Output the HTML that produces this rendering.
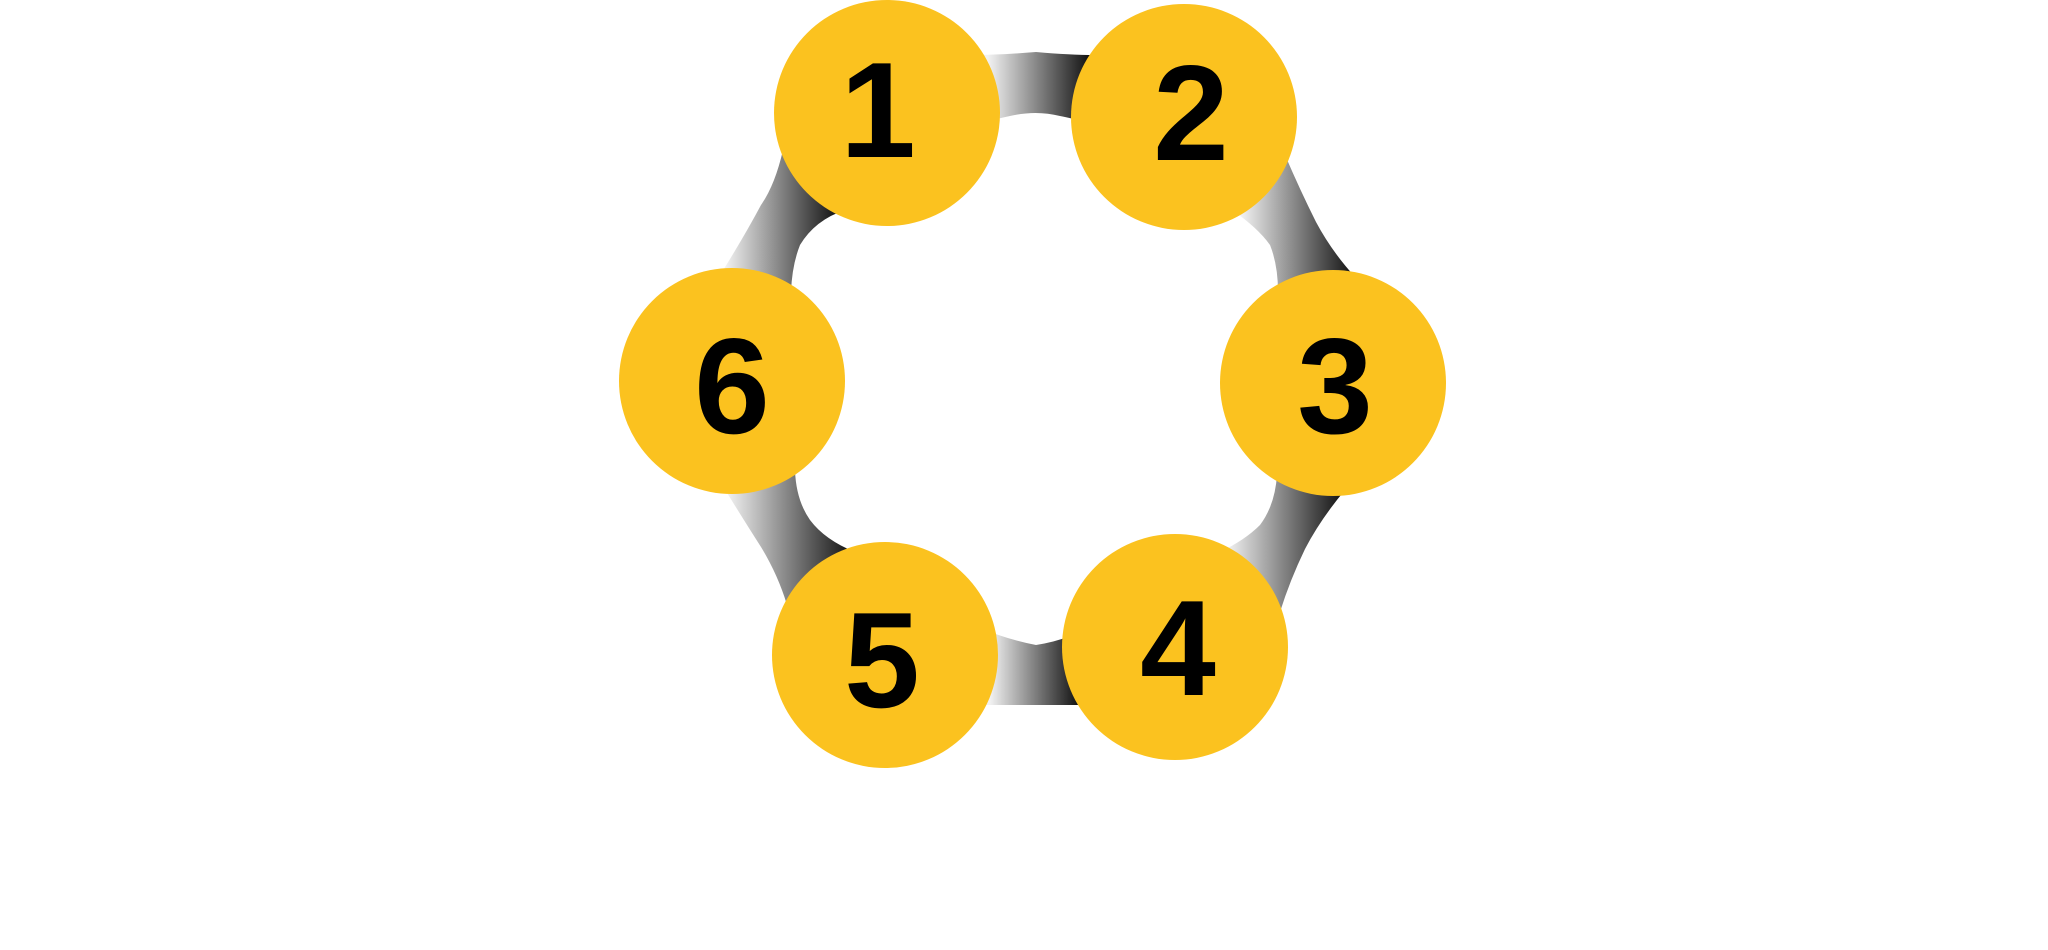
<!DOCTYPE html>
<html><head><style>html,body{margin:0;padding:0;background:#fff;}svg{display:block}</style></head>
<body>
<svg width="2048" height="950" viewBox="0 0 2048 950" xmlns="http://www.w3.org/2000/svg">
<defs>
<linearGradient id="g12" gradientUnits="userSpaceOnUse" x1="988" y1="0" x2="1088" y2="0"><stop offset="0" stop-color="#f2f2f2"/><stop offset="1" stop-color="#151515"/></linearGradient>
<linearGradient id="g23" gradientUnits="userSpaceOnUse" x1="1241" y1="0" x2="1352" y2="0"><stop offset="0" stop-color="#f2f2f2"/><stop offset="1" stop-color="#151515"/></linearGradient>
<linearGradient id="g34" gradientUnits="userSpaceOnUse" x1="1227" y1="0" x2="1341" y2="0"><stop offset="0" stop-color="#f2f2f2"/><stop offset="1" stop-color="#151515"/></linearGradient>
<linearGradient id="g45" gradientUnits="userSpaceOnUse" x1="990" y1="0" x2="1077" y2="0"><stop offset="0" stop-color="#f2f2f2"/><stop offset="1" stop-color="#151515"/></linearGradient>
<linearGradient id="g56" gradientUnits="userSpaceOnUse" x1="727" y1="0" x2="850" y2="0"><stop offset="0" stop-color="#f2f2f2"/><stop offset="1" stop-color="#151515"/></linearGradient>
<linearGradient id="g61" gradientUnits="userSpaceOnUse" x1="725" y1="0" x2="836" y2="0"><stop offset="0" stop-color="#f2f2f2"/><stop offset="1" stop-color="#151515"/></linearGradient>
</defs>
<path d="M975,55 Q1000,55 1036,52 Q1070,55 1095,55 L1095,125 Q1072,118 1060,116 Q1036,110 1010,116 Q999,118 975,125 Z" fill="url(#g12)"/>
<path d="M783,150 Q775,185 761,205 Q745,235 722,272 L791,292 Q792,265 800,245 Q815,220 845,210 Z" fill="url(#g61)"/>
<path d="M1285,155 Q1300,190 1316,222 Q1332,252 1356,278 L1278,292 Q1278,265 1270,245 Q1258,228 1232,210 Z" fill="url(#g23)"/>
<path d="M1277,475 Q1275,505 1260,525 Q1245,540 1220,552 L1280,612 Q1290,580 1305,549 Q1320,520 1345,490 Z" fill="url(#g34)"/>
<path d="M724,488 Q745,522 761,547 Q778,575 787,605 L855,552 Q825,540 810,520 Q796,500 795,470 Z" fill="url(#g56)"/>
<path d="M985,630 Q1010,640 1036,645 Q1055,642 1070,636 L1080,705 L985,705 Z" fill="url(#g45)"/>
<g fill="#fbc21f">
<circle cx="887" cy="113" r="113"/>
<circle cx="1184" cy="117" r="113"/>
<circle cx="1333" cy="383" r="113"/>
<circle cx="1175" cy="647" r="113"/>
<circle cx="885" cy="655" r="113"/>
<circle cx="732" cy="381" r="113"/>
</g>
<g font-family="Liberation Sans, sans-serif" font-weight="bold" font-size="136" text-anchor="middle" fill="#000">
<text x="878" y="157">1</text>
<text x="1191" y="160">2</text>
<text x="1335" y="433">3</text>
<text x="732" y="433">6</text>
<text x="882" y="707">5</text>
<text x="1178" y="695">4</text>
</g>
</svg>
</body></html>
